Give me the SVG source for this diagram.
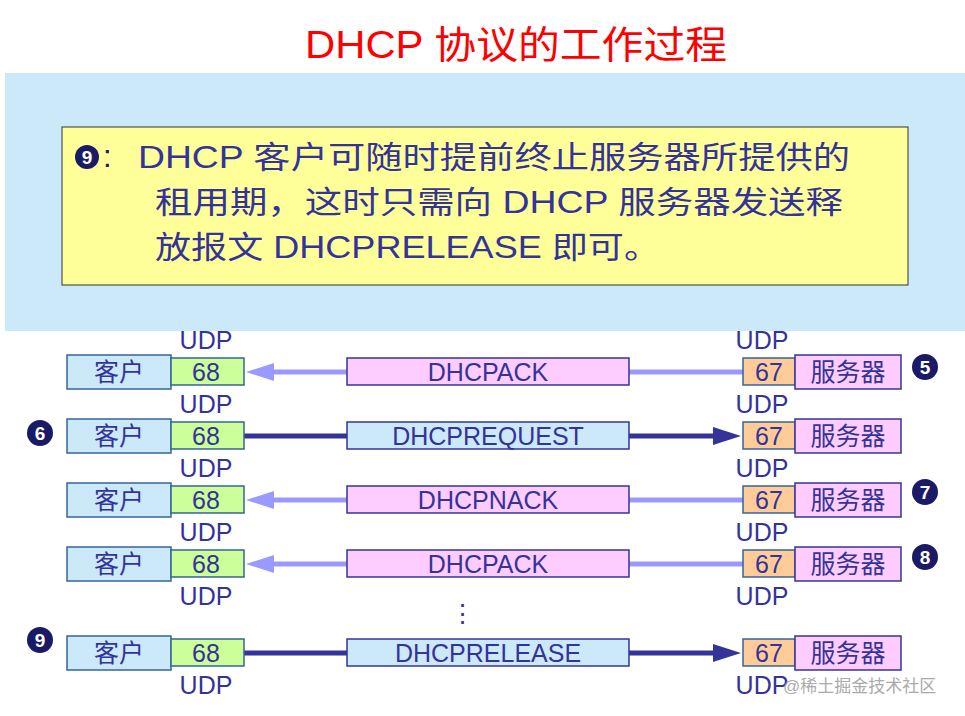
<svg xmlns="http://www.w3.org/2000/svg" width="965" height="716" viewBox="0 0 965 716">
<defs>
<style>
text{font-family:"Liberation Sans","Noto Sans CJK SC",sans-serif;fill:#333399}
.c{fill:#cce9f9;stroke:#336699;stroke-width:1.5}
.p{fill:#ccff99;stroke:#336699;stroke-width:1.5}
.q{fill:#ffcc99;stroke:#336699;stroke-width:1.5}
.s{fill:#ffccff;stroke:#333399;stroke-width:1.5}
.m1{fill:#ffccff;stroke:#333399;stroke-width:1.5}
.m2{fill:#cce9f9;stroke:#333399;stroke-width:1.5}
.t{font-size:25px;text-anchor:middle}
.n{fill:#1a1a66}
.nt{fill:#fff;font-size:19px;font-weight:bold;text-anchor:middle}
.lt{stroke:#9999ff;stroke-width:5}
.dk{stroke:#333399;stroke-width:5}
.big{font-size:31px}
</style>
</defs>
<rect x="0" y="0" width="965" height="716" fill="#fff"/>
<text x="305" y="58" textLength="422" lengthAdjust="spacingAndGlyphs" style="font-size:38px;fill:#ff0000">DHCP 协议的工作过程</text>
<rect x="5" y="73" width="960" height="258" fill="#cce9f9"/>
<g id="note">
<rect x="62" y="127" width="846" height="158" fill="#ffff99" stroke="#333" stroke-width="1"/>
<circle cx="87" cy="157" r="12" class="n"/><text x="87" y="164" class="nt">9</text>
<text x="103" y="167" class="big" style="fill:#1a1a66">:</text>
<text x="138" y="168" class="big" textLength="712" lengthAdjust="spacingAndGlyphs">DHCP 客户可随时提前终止服务器所提供的</text>
<text x="155" y="213" class="big" textLength="688" lengthAdjust="spacingAndGlyphs">租用期，这时只需向 DHCP 服务器发送释</text>
<text x="155" y="258" class="big" textLength="505" lengthAdjust="spacingAndGlyphs">放报文 DHCPRELEASE 即可。</text>
</g>
<g id="connectors">
<line x1="347" y1="372" x2="268" y2="372" class="lt"/><polygon points="246,372 274,363 274,381" fill="#9999ff"/>
<line x1="629" y1="372" x2="743" y2="372" class="lt"/>
<line x1="244" y1="436" x2="347" y2="436" class="dk"/>
<line x1="629" y1="436" x2="715" y2="436" class="dk"/><polygon points="741,436 713,427 713,445" fill="#333399"/>
<line x1="347" y1="500" x2="268" y2="500" class="lt"/><polygon points="246,500 274,491 274,509" fill="#9999ff"/>
<line x1="629" y1="500" x2="743" y2="500" class="lt"/>
<line x1="347" y1="564" x2="268" y2="564" class="lt"/><polygon points="246,564 274,555 274,573" fill="#9999ff"/>
<line x1="629" y1="564" x2="743" y2="564" class="lt"/>
<line x1="244" y1="653" x2="347" y2="653" class="dk"/>
<line x1="629" y1="653" x2="715" y2="653" class="dk"/><polygon points="741,653 713,644 713,662" fill="#333399"/>
</g>
<g id="row1">
<rect x="67" y="355" width="104" height="34" class="c"/><text x="119" y="381" class="t">客户</text>
<rect x="171" y="358" width="73" height="27" class="p"/><text x="206" y="381" class="t">68</text>
<rect x="347" y="358" width="282" height="27" class="m1"/><text x="488" y="381" class="t">DHCPACK</text>
<rect x="743" y="358" width="52" height="27" class="q"/><text x="769" y="381" class="t">67</text>
<rect x="795" y="355" width="106" height="34" class="s"/><text x="848" y="381" class="t">服务器</text>
<text x="206" y="349" class="t">UDP</text><text x="762" y="349" class="t">UDP</text>
<circle cx="925" cy="367" r="13" class="n"/><text x="925" y="374" class="nt">5</text>
</g>
<g id="row2">
<text x="206" y="413" class="t">UDP</text><text x="762" y="413" class="t">UDP</text>
<circle cx="40" cy="433" r="13" class="n"/><text x="40" y="440" class="nt">6</text>
<rect x="67" y="419" width="104" height="34" class="c"/><text x="119" y="445" class="t">客户</text>
<rect x="171" y="422" width="73" height="27" class="p"/><text x="206" y="445" class="t">68</text>
<rect x="347" y="422" width="282" height="27" class="m2"/><text x="488" y="445" class="t">DHCPREQUEST</text>
<rect x="743" y="422" width="52" height="27" class="q"/><text x="769" y="445" class="t">67</text>
<rect x="795" y="419" width="106" height="34" class="s"/><text x="848" y="445" class="t">服务器</text>
</g>
<g id="row3">
<text x="206" y="477" class="t">UDP</text><text x="762" y="477" class="t">UDP</text>
<rect x="67" y="483" width="104" height="34" class="c"/><text x="119" y="509" class="t">客户</text>
<rect x="171" y="486" width="73" height="27" class="p"/><text x="206" y="509" class="t">68</text>
<rect x="347" y="486" width="282" height="27" class="m1"/><text x="488" y="509" class="t">DHCPNACK</text>
<rect x="743" y="486" width="52" height="27" class="q"/><text x="769" y="509" class="t">67</text>
<rect x="795" y="483" width="106" height="34" class="s"/><text x="848" y="509" class="t">服务器</text>
<circle cx="925" cy="492" r="13" class="n"/><text x="925" y="499" class="nt">7</text>
</g>
<g id="row4">
<text x="206" y="541" class="t">UDP</text><text x="762" y="541" class="t">UDP</text>
<rect x="67" y="547" width="104" height="34" class="c"/><text x="119" y="573" class="t">客户</text>
<rect x="171" y="550" width="73" height="27" class="p"/><text x="206" y="573" class="t">68</text>
<rect x="347" y="550" width="282" height="27" class="m1"/><text x="488" y="573" class="t">DHCPACK</text>
<rect x="743" y="550" width="52" height="27" class="q"/><text x="769" y="573" class="t">67</text>
<rect x="795" y="547" width="106" height="34" class="s"/><text x="848" y="573" class="t">服务器</text>
<circle cx="925" cy="557" r="13" class="n"/><text x="925" y="564" class="nt">8</text>
<text x="206" y="605" class="t">UDP</text><text x="762" y="605" class="t">UDP</text>
</g>
<text x="462" y="622" class="t">⋮</text>
<g id="row5">
<circle cx="40" cy="640" r="13" class="n"/><text x="40" y="647" class="nt">9</text>
<rect x="67" y="636" width="104" height="34" class="c"/><text x="119" y="662" class="t">客户</text>
<rect x="171" y="639" width="73" height="27" class="p"/><text x="206" y="662" class="t">68</text>
<rect x="347" y="639" width="282" height="27" class="m2"/><text x="488" y="662" class="t">DHCPRELEASE</text>
<rect x="743" y="639" width="52" height="27" class="q"/><text x="769" y="662" class="t">67</text>
<rect x="795" y="636" width="106" height="34" class="s"/><text x="848" y="662" class="t">服务器</text>
<text x="206" y="694" class="t">UDP</text><text x="762" y="694" class="t">UDP</text>
</g>
<text x="783" y="692" style="font-size:17px;fill:#aaa">@稀土掘金技术社区</text>
</svg>
